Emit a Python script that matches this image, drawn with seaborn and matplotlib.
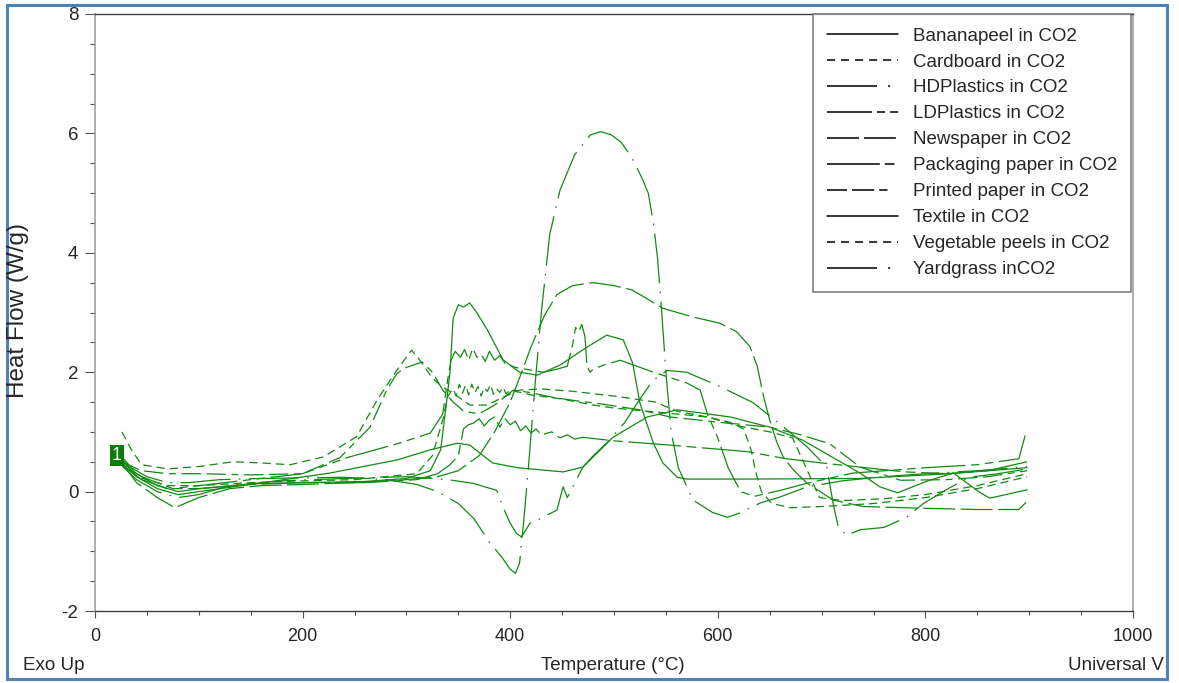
import numpy as np
import pandas as pd
import matplotlib
matplotlib.use("Agg")
import matplotlib.pyplot as plt
from matplotlib.lines import Line2D
from matplotlib.patches import Rectangle
import seaborn as sns

# ---------------- data ----------------
samples = ["Bananapeel in CO2", "Cardboard in CO2", "HDPlastics in CO2", "LDPlastics in CO2",
           "Newspaper in CO2", "Packaging paper in CO2", "Printed paper in CO2", "Textile in CO2",
           "Vegetable peels in CO2", "Yardgrass inCO2"]

T_banana = [25,40,60,80,100,150,226,291,323,349,361,383,407,451,470,499,532,561,612,650,682,715,737,756,773,804,827,853,862,898]
HF_banana = [0.55,0.25,0.05,-0.05,0.0,0.12,0.31,0.53,0.70,0.81,0.78,0.48,0.40,0.33,0.41,0.91,1.25,1.37,1.25,1.08,0.86,0.53,0.31,0.08,-0.02,0.19,0.31,-0.02,-0.11,0.03]

T_card = [25,40,70,100,150,200,250,310,325,335,340,345,348,351,354,357,360,363,366,369,372,375,378,381,384,387,390,393,396,400,420,450,480,500,530,560,590,612,625,632,637,642,652,670,700,750,800,850,898]
HF_card = [0.5,0.25,0.1,0.1,0.15,0.18,0.2,0.3,0.6,1.2,1.6,1.72,1.6,1.8,1.65,1.78,1.62,1.8,1.66,1.76,1.6,1.74,1.68,1.79,1.63,1.72,1.66,1.75,1.64,1.7,1.62,1.55,1.45,1.4,1.35,1.3,1.25,1.16,1.05,0.7,0.3,0.0,-0.2,-0.27,-0.25,-0.2,-0.1,0.05,0.25]

T_hdp = [25,40,60,80,100,130,180,240,300,340,364,387,393,400,406,411,419,426,445,451,455,470,480,495,510,525,537,551,570,602,634,667,686,705,711,716,724,737,760,782,798,820,842,870,898]
HF_hdp = [0.45,0.2,0.0,-0.1,-0.05,0.1,0.18,0.22,0.25,0.2,0.14,0.02,-0.26,-0.53,-0.7,-0.76,-0.53,-0.48,-0.31,0.08,-0.1,0.41,0.6,0.85,1.15,1.55,1.85,2.03,2.0,1.76,1.49,1.03,0.75,0.41,-0.19,-0.59,-0.73,-0.64,-0.6,-0.43,-0.2,0.03,0.24,0.3,0.38]

T_ldp = [25,45,75,100,150,200,243,291,323,335,340,343,347,352,356,360,364,368,372,376,380,385,390,395,405,415,432,445,455,460,463,466,469,472,474,477,480,490,506,538,570,583,590,600,610,622,635,660,686,730,800,850,890,897]
HF_ldp = [0.45,0.25,0.05,0.1,0.2,0.3,0.57,0.8,0.98,1.3,1.9,2.2,2.35,2.25,2.38,2.2,2.4,2.25,2.3,2.18,2.35,2.2,2.28,2.15,2.08,2.05,2.0,2.05,2.1,2.45,2.75,2.68,2.8,2.6,2.1,2.0,2.05,2.12,2.2,2.0,1.82,1.7,1.3,0.9,0.4,0.0,-0.08,0.02,0.14,0.31,0.4,0.45,0.55,1.0]

T_news = [25,40,60,77,100,130,160,200,250,300,330,350,370,385,400,410,420,433,445,460,480,500,517,530,547,575,602,618,631,638,644,650,657,663,673,686,711,740,800,850,890,897]
HF_news = [0.5,0.15,-0.1,-0.27,-0.1,0.05,0.1,0.12,0.15,0.2,0.25,0.35,0.6,1.0,1.5,1.95,2.42,2.95,3.3,3.45,3.5,3.45,3.38,3.25,3.07,2.93,2.82,2.68,2.43,2.1,1.6,1.2,0.82,0.58,0.36,0.14,-0.14,-0.25,-0.28,-0.3,-0.3,-0.18]

T_pack = [25,45,70,100,150,200,260,310,330,342,350,355,360,365,370,375,380,385,390,395,400,405,410,415,420,425,430,440,448,455,462,470,500,553,628,666,700,737,780,820,860,898]
HF_pack = [0.45,0.2,0.05,0.05,0.12,0.15,0.15,0.2,0.3,0.45,0.6,1.05,1.12,1.15,1.22,1.1,1.2,1.25,1.08,1.22,1.12,1.18,1.02,1.1,0.98,1.05,0.95,1.0,0.9,0.95,0.88,0.91,0.85,0.78,0.67,0.55,0.48,0.41,0.33,0.3,0.35,0.5]

T_print = [25,45,70,100,150,200,236,265,281,291,300,315,325,335,345,355,370,385,403,419,441,460,483,506,525,554,602,650,680,708,737,776,820,860,898]
HF_print = [0.5,0.35,0.3,0.3,0.28,0.3,0.57,1.08,1.7,1.98,2.08,2.17,2.0,1.7,1.5,1.35,1.3,1.45,1.7,1.66,1.58,1.53,1.48,1.42,1.37,1.25,1.16,1.08,0.95,0.8,0.41,0.19,0.2,0.25,0.35]

T_textile = [22,40,60,80,101,150,197,260,300,323,333,338,342,345,350,355,361,368,378,393,409,426,448,474,493,509,518,525,538,547,561,570,631,737,824,898]
HF_textile = [0.6,0.3,0.1,0.0,0.05,0.13,0.15,0.17,0.22,0.35,0.7,1.4,2.0,2.9,3.13,3.09,3.16,2.99,2.71,2.21,2.0,1.95,2.12,2.42,2.62,2.54,2.15,1.48,0.81,0.48,0.24,0.21,0.21,0.22,0.3,0.4]

T_veg = [26,35,45,70,100,133,160,188,220,252,272,291,305,313,325,335,345,353,361,378,393,409,430,460,500,540,560,590,620,650,672,685,698,720,760,800,850,898]
HF_veg = [1.0,0.7,0.45,0.38,0.42,0.5,0.48,0.45,0.58,0.92,1.54,2.04,2.37,2.2,1.9,1.75,1.65,1.55,1.45,1.45,1.58,1.7,1.72,1.68,1.6,1.5,1.35,1.25,1.1,1.0,0.9,0.4,-0.1,-0.15,-0.12,-0.05,0.1,0.3]

T_yard = [25,35,50,70,90,120,160,200,240,280,310,330,350,365,380,392,400,405,409,413,418,424,430,438,448,462,477,487,497,507,517,527,533,538,542,546,550,555,562,576,595,609,621,641,660,686,720,760,800,850,898]
HF_yard = [0.6,0.4,0.25,0.15,0.15,0.2,0.22,0.23,0.24,0.2,0.12,0.0,-0.2,-0.45,-0.85,-1.1,-1.3,-1.37,-1.2,-0.5,0.5,1.8,3.0,4.3,5.05,5.64,5.97,6.03,5.98,5.85,5.6,5.25,5.0,4.5,3.9,3.0,2.0,1.0,0.4,-0.14,-0.35,-0.43,-0.36,-0.19,-0.09,0.08,0.18,0.25,0.3,0.35,0.42]

T_lists = [T_banana, T_card, T_hdp, T_ldp, T_news, T_pack, T_print, T_textile, T_veg, T_yard]
HF_lists = [HF_banana, HF_card, HF_hdp, HF_ldp, HF_news, HF_pack, HF_print, HF_textile, HF_veg, HF_yard]

# ---------------- styles ----------------
dash_styles = {
    "Bananapeel in CO2": "",
    "Cardboard in CO2": (6, 3.6),
    "HDPlastics in CO2": (36, 6, 1.2, 6),
    "LDPlastics in CO2": (32, 4, 6, 4, 6, 4),
    "Newspaper in CO2": (23, 4),
    "Packaging paper in CO2": (38, 4, 7, 4),
    "Printed paper in CO2": (14, 4, 14, 4, 5, 4),
    "Textile in CO2": "",
    "Vegetable peels in CO2": (6, 3.6),
    "Yardgrass inCO2": (36, 6, 1.2, 6),
}
legend_dashes = {
    "Bananapeel in CO2": None,
    "Cardboard in CO2": (5.8, 4.3),
    "HDPlastics in CO2": (36, 8, 1.5, 40),
    "LDPlastics in CO2": (32.4, 3.6, 5.8, 3.6, 5.8, 30),
    "Newspaper in CO2": (23, 3.6),
    "Packaging paper in CO2": (38, 3.6, 7, 30),
    "Printed paper in CO2": (14.4, 3.6, 16, 3.6, 6, 30),
    "Textile in CO2": None,
    "Vegetable peels in CO2": (5.8, 4.3),
    "Yardgrass inCO2": (36, 8, 1.5, 40),
}

sns.set_theme(style="white")
plt.rcParams["font.family"] = ["Liberation Sans", "DejaVu Sans"]
plt.rcParams["lines.scale_dashes"] = False
plt.rcParams["axes.unicode_minus"] = False

frames = []
for name, t, h in zip(samples, T_lists, HF_lists):
    frames.append(pd.DataFrame({"Temperature": t, "HeatFlow": h, "sample": name}))
df = pd.concat(frames, ignore_index=True)

W, H = 1179, 683
fig = plt.figure(figsize=(W / 100, H / 100), dpi=100)
ax = fig.add_axes([95 / W, 1 - 611 / H, (1133 - 95) / W, (611 - 14) / H])

line_green = "#118a11"
sns.lineplot(data=df, x="Temperature", y="HeatFlow", hue="sample", style="sample",
             palette={s: line_green for s in samples}, dashes=dash_styles,
             sort=False, estimator=None, units="sample", linewidth=0.9, legend=False, ax=ax)

ax.set_xlim(0, 1000)
ax.set_ylim(-2, 8)
ax.set_xticks(np.arange(0, 1001, 200))
ax.set_xticks(np.arange(0, 1001, 50), minor=True)
ax.set_yticks(np.arange(-2, 9, 2))
ax.set_yticks(np.arange(-2, 8.01, 0.5), minor=True)
ax.tick_params(axis="x", which="major", direction="out", length=5, width=0.8, color="#505050",
               labelsize=13, pad=7, bottom=True, top=False)
ax.tick_params(axis="x", which="minor", direction="out", length=3, width=0.8, color="#505050", bottom=True)
ax.tick_params(axis="y", which="major", direction="out", length=7, width=0.8, color="#505050",
               labelsize=13.5, pad=5, left=True, right=False)
ax.tick_params(axis="y", which="minor", direction="out", length=3.5, width=0.8, color="#505050", left=True)
ax.set_xlabel("")
ax.set_ylabel("")
for side in ["left", "right"]:
    ax.spines[side].set_color("#a0a0a0")
    ax.spines[side].set_linewidth(1.2)
for side in ["top", "bottom"]:
    ax.spines[side].set_color("#404040")
    ax.spines[side].set_linewidth(1.0)

# legend (black proxies)
handles = []
for s in samples:
    d = legend_dashes[s]
    ls = "-" if d is None else (0, d)
    handles.append(Line2D([0], [0], color="black", lw=1.1, linestyle=ls))
leg = ax.legend(handles, samples, loc="upper right", bbox_to_anchor=(0.998, 1.0),
                fontsize=13.5, frameon=True, fancybox=False, borderpad=0.72,
                labelspacing=0.47, handlelength=3.8, handletextpad=0.8, borderaxespad=0)
leg.get_frame().set_edgecolor("#606060")
leg.get_frame().set_linewidth(1.2)

# curve number marker
ax.text(21, 0.6, "1", color="white", fontsize=13, ha="center", va="center", zorder=10,
        bbox=dict(boxstyle="square,pad=0.12", fc="#0b7a0b", ec="none"))

# labels
fig.text(18 / W, 1 - 311 / H, "Heat Flow (W/g)", rotation=90, ha="center", va="center", fontsize=17.5)
fig.text(613 / W, 1 - 665 / H, "Temperature (°C)", ha="center", va="center", fontsize=13.5)
fig.text(23 / W, 1 - 666 / H, "Exo Up", ha="left", va="center", fontsize=13.5)
fig.text(1164 / W, 1 - 666 / H, "Universal V", ha="right", va="center", fontsize=13.5)

fig.add_artist(Rectangle((7 / W, 1 - 679 / H), (1167 - 7) / W, (679 - 5) / H,
                         transform=fig.transFigure, fill=False, ec="#4f81bd", lw=2.2))

fig.savefig("out.png", dpi=100)
